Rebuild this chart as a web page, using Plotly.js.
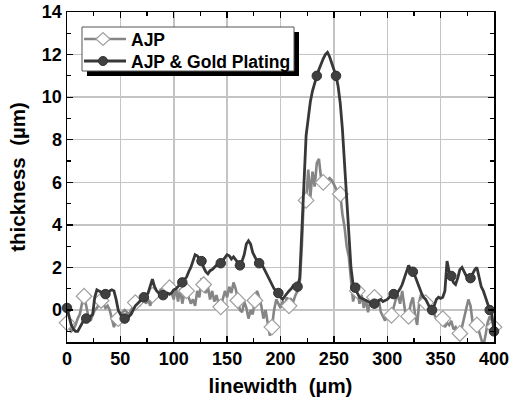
<!DOCTYPE html>
<html>
<head>
<meta charset="utf-8">
<script src="https://cdn.plot.ly/plotly-3.0.1.min.js"></script>
<style>html,body{margin:0;padding:0;background:#fff;}#chart{width:514px;height:399px;}</style>
</head>
<body>
<div id="chart"></div>
<script>
// linewidth positions (µm), step 2
var linewidth = [];
for (var i = 0; i <= 200; i++) linewidth.push(i * 2);

// AJP thickness (µm)
var ajp = [
 -0.6,-0.8,-1.0,-0.9,-0.7,-0.4,-0.2,0.3,0.65,0.2,
 -0.3,-0.5,-0.2,0.0,0.1,0.3,0.45,0.3,0.1,0.2,
 0.0,-0.4,-0.8,-0.5,-0.4,-0.2,-0.1,0.0,-0.1,-0.2,
 0.0,0.2,0.35,0.5,0.2,0.4,0.6,0.3,0.5,0.2,
 0.7,0.9,0.6,0.8,1.0,0.7,0.9,0.8,1.05,0.8,
 0.5,1.1,0.4,1.0,0.3,0.8,0.9,0.6,0.3,0.5,
 0.2,0.9,0.6,1.5,1.2,0.8,1.1,0.5,0.9,0.4,
 0.7,0.3,0.15,0.6,0.9,0.6,1.1,0.8,1.3,1.0,
 0.45,0.0,-0.1,0.4,0.1,-0.4,0.0,-0.2,0.45,0.9,
 0.6,0.2,-0.4,0.0,-0.6,-1.2,-0.8,0.0,0.5,0.3,
 0.1,0.4,0.2,0.6,0.2,0.5,0.4,0.7,0.9,1.2,
 3.0,5.5,5.15,6.6,5.3,6.5,5.8,6.9,7.1,6.2,
 6.0,5.9,6.1,6.2,6.1,5.9,5.7,5.5,5.45,4.5,
 3.9,3.0,2.5,1.5,0.4,0.8,0.9,0.3,0.7,0.1,
 0.5,-0.1,0.4,0.2,0.6,0.3,0.5,-0.1,-0.3,-0.5,
 -0.2,-0.3,-0.25,0.2,0.5,0.7,0.3,0.9,0.2,-0.5,
 -0.3,0.3,0.6,-0.2,-0.7,0.4,0.8,0.5,0.35,0.1,
 -0.1,0.2,-0.2,-0.4,-0.3,-0.6,-0.4,-0.8,-0.6,-0.7,
 -0.5,-0.9,-0.8,-1.1,-1.1,-0.8,-0.4,0.0,0.5,0.2,
 -0.6,-0.8,-0.7,-1.0,-1.4,-1.7,-1.2,-0.6,-0.3,-0.5,
 -0.8
];

// AJP & Gold Plating thickness (µm)
var ajpGold = [
 0.1,-0.3,-0.7,-0.9,-1.0,-1.0,-0.8,-0.6,-0.45,-0.4,
 -0.4,-0.3,-0.2,0.6,0.95,0.9,0.85,0.8,0.75,0.8,
 0.9,0.95,0.9,0.5,0.0,-0.2,-0.35,-0.4,-0.4,-0.3,
 -0.2,0.0,0.2,0.3,0.4,0.55,0.6,0.65,0.8,1.1,
 1.45,1.1,0.9,0.8,0.75,0.7,0.75,0.8,0.75,0.8,
 0.95,1.0,1.1,1.2,1.3,1.4,1.55,1.8,2.0,2.3,
 2.6,2.55,2.4,2.3,2.0,1.8,1.7,1.85,1.9,2.0,
 2.1,2.2,2.2,2.35,2.5,2.6,2.55,2.4,2.5,2.35,
 2.2,2.1,2.3,2.6,3.1,3.25,3.1,2.7,2.5,2.3,
 2.2,2.15,2.0,1.8,1.6,1.4,1.2,1.0,0.9,0.8,
 0.6,0.5,0.65,0.8,0.9,1.0,1.15,1.1,1.1,1.5,
 4.0,6.5,8.2,9.0,9.8,10.3,10.7,11.0,11.3,11.6,
 11.8,12.0,12.1,11.9,11.6,11.3,11.0,10.5,9.7,8.5,
 7.0,5.3,3.5,2.0,1.2,1.05,0.8,0.6,0.55,0.5,
 0.45,0.4,0.35,0.3,0.3,0.35,0.45,0.5,0.4,0.45,
 0.5,0.6,0.7,0.75,0.8,0.85,1.0,1.2,1.5,1.8,
 2.1,1.9,1.8,1.6,1.3,1.0,0.8,0.6,0.5,0.3,
 0.1,0.0,0.2,0.5,0.6,0.55,0.6,0.9,2.3,1.8,
 1.6,1.3,1.2,1.5,1.9,2.0,1.8,1.6,1.5,1.5,
 1.7,1.9,2.0,1.6,1.1,0.9,0.6,0.2,0.0,-0.2,
 -1.0
];

var seriesNames = ['AJP', 'AJP & Gold Plating'];
var xTickVals = [0, 50, 100, 150, 200, 250, 300, 350, 400];
var yTickVals = [0, 2, 4, 6, 8, 10, 12, 14];

function pick(xs, ys, every) {
  var px = [], py = [];
  for (var i = 0; i < xs.length; i++) {
    if (i % every === 0 || i === xs.length - 1) { px.push(xs[i]); py.push(ys[i]); }
  }
  return {x: px, y: py};
}

var grayC = '#858585', darkC = '#383838';
var gM = pick(linewidth, ajp, 8);
var dM = pick(linewidth, ajpGold, 9);

var grayLine = {width: 2.6, color: grayC};
var darkLine = {width: 2.8, color: darkC};
var grayMarker = {symbol: 'diamond', size: 12, color: '#ffffff', line: {color: '#a0a0a0', width: 1.2}};
var darkMarker = {symbol: 'circle', size: 9.5, color: '#404040', line: {color: '#303030', width: 1}};

var data = [
  {x: linewidth, y: ajp, mode: 'lines', line: grayLine, name: seriesNames[0], showlegend: false, hoverinfo: 'skip'},
  {x: gM.x, y: gM.y, mode: 'markers', marker: grayMarker, showlegend: false, cliponaxis: false},
  {x: linewidth, y: ajpGold, mode: 'lines', line: darkLine, name: seriesNames[1], showlegend: false, hoverinfo: 'skip'},
  {x: dM.x, y: dM.y, mode: 'markers', marker: darkMarker, showlegend: false, cliponaxis: false}
];

var FAM = 'Arial, "Liberation Sans", sans-serif';
var tickFont = {family: FAM, size: 18, color: '#000', weight: 'bold'};
var titleFont = {family: FAM, size: 20.5, color: '#000', weight: 'bold'};

// plot-area geometry (pixels) used to place the hand-drawn legend
var M = {l: 67, r: 20, t: 12, b: 57};
var PW = 514 - M.l - M.r, PH = 399 - M.t - M.b;
function px(v) { return (v - M.l) / PW; }
function py(v) { return 1 - (v - M.t) / PH; }

var shapes = [
  // shadow
  {type: 'rect', xref: 'paper', yref: 'paper', layer: 'above',
   x0: px(87), x1: px(299), y0: py(76), y1: py(32), fillcolor: '#000', line: {width: 0}},
  // box
  {type: 'rect', xref: 'paper', yref: 'paper', layer: 'above',
   x0: px(82), x1: px(294), y0: py(71), y1: py(27), fillcolor: '#fff', line: {color: '#555', width: 1}},
  // sample lines
  {type: 'line', xref: 'paper', yref: 'paper', layer: 'above',
   x0: px(84), x1: px(126), y0: py(39), y1: py(39), line: grayLine},
  {type: 'line', xref: 'paper', yref: 'paper', layer: 'above',
   x0: px(84), x1: px(126), y0: py(61), y1: py(61), line: darkLine},
  // diamond marker
  {type: 'path', xref: 'paper', yref: 'paper', layer: 'above',
   path: 'M' + px(96) + ',' + py(39) + ' L' + px(103) + ',' + py(32.5) + ' L' + px(110) + ',' + py(39) +
         ' L' + px(103) + ',' + py(45.5) + ' Z',
   fillcolor: '#fff', line: {color: '#a0a0a0', width: 1.2}},
  // circle marker
  {type: 'circle', xref: 'paper', yref: 'paper', layer: 'above',
   x0: px(98.5), x1: px(107.5), y0: py(65.5), y1: py(56.5),
   fillcolor: '#404040', line: {color: '#303030', width: 1}}
];

var annotations = [
  {text: seriesNames[0], xref: 'paper', yref: 'paper', x: px(129), y: py(39.5), xanchor: 'left', yanchor: 'middle',
   showarrow: false, font: {family: FAM, size: 17.5, color: '#000', weight: 'bold'}},
  {text: seriesNames[1], xref: 'paper', yref: 'paper', x: px(129), y: py(61.5), xanchor: 'left', yanchor: 'middle',
   showarrow: false, font: {family: FAM, size: 17.5, color: '#000', weight: 'bold'}}
];

var layout = {
  width: 514, height: 399,
  margin: M,
  paper_bgcolor: '#fff', plot_bgcolor: '#fff',
  showlegend: false,
  xaxis: {
    range: [0, 400], tickvals: xTickVals, ticktext: xTickVals.map(String),
    ticks: 'inside', ticklen: 6, tickwidth: 1.3, tickcolor: '#000',
    minor: {dtick: 25, tick0: 0, ticks: 'inside', ticklen: 4, tickwidth: 1.2, tickcolor: '#000', showgrid: false},
    showline: true, linecolor: '#000', linewidth: 1.5, mirror: 'ticks',
    showgrid: true, gridcolor: '#c4c4c4', gridwidth: 1.5,
    zeroline: false, tickfont: tickFont,
    title: {text: 'linewidth \u00a0(µm)', font: titleFont, standoff: 10}
  },
  yaxis: {
    range: [-1.5, 14], tickvals: yTickVals, ticktext: yTickVals.map(String),
    ticks: 'inside', ticklen: 6, tickwidth: 1.3, tickcolor: '#000',
    minor: {dtick: 1, tick0: 0, ticks: 'inside', ticklen: 4, tickwidth: 1.2, tickcolor: '#000', showgrid: false},
    showline: true, linecolor: '#000', linewidth: 1.5, mirror: 'ticks',
    showgrid: true, gridcolor: '#c4c4c4', gridwidth: 1.5,
    zeroline: false, tickfont: tickFont,
    title: {text: 'thickness \u00a0(µm)', font: titleFont, standoff: 10}
  },
  shapes: shapes,
  annotations: annotations
};

Plotly.newPlot('chart', data, layout, {displayModeBar: false, staticPlot: true});
</script>
</body>
</html>
